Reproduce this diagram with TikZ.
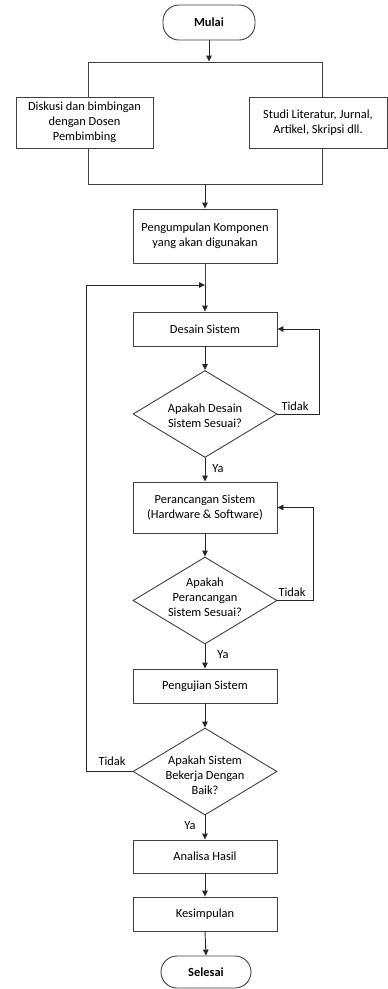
\documentclass[tikz,border=0pt]{standalone}
\usepackage{fontspec}
\setmainfont{Carlito}
\usetikzlibrary{shapes.geometric,arrows.meta}
\begin{document}
\begin{tikzpicture}[x=1pt,y=-1pt,
  font=\fontsize{12.4}{15}\selectfont,
  box/.style={draw=black!75,line width=0.9pt,fill=white,align=center,inner sep=0pt,minimum width=144pt},
  term/.style={draw=black!75,line width=0.9pt,fill=white,rounded corners=16pt,inner sep=0pt,font=\fontsize{12.4}{15}\selectfont\bfseries},
  dec/.style={draw=black!75,line width=0.9pt,shape=diamond,inner sep=0pt,minimum width=144pt,minimum height=87pt},
  arr/.style={draw=black!85,line width=0.9pt,-{Triangle[length=6pt,width=5.5pt]}},
  ln/.style={draw=black!75,line width=0.9pt},
  lbl/.style={inner sep=0pt}]
\useasboundingbox (0,0) rectangle (388,989);
% outer frame
\node[draw=black!75,line width=0.9pt,minimum width=234pt,minimum height=122pt,inner sep=0pt] (frame) at (205,123) {};
\node[term,minimum width=92pt,minimum height=35pt] (mulai) at (209,22.5) {Mulai};
\node[box,minimum width=137pt,minimum height=51pt] (disk) at (84.5,122.5) {Diskusi dan bimbingan\\dengan Dosen\\Pembimbing};
\node[box,minimum width=138pt,minimum height=51pt] (studi) at (318,122.5) {Studi Literatur, Jurnal,\\Artikel, Skripsi dll.};
\node[box,minimum height=54pt] (peng) at (205,236) {Pengumpulan Komponen\\yang akan digunakan};
\coordinate (join) at (205,285);
\node[box,minimum height=34pt] (desain) at (205,329) {Desain Sistem};
\node[dec] (d1) at (205,414) {};
\node[align=center,lbl] (t1) at (205,416) {Apakah Desain\\Sistem Sesuai?};
\node[box,minimum height=51pt] (peranc) at (205,507.5) {Perancangan Sistem\\(Hardware \& Software)};
\node[dec] (d2) at (205,600.5) {};
\node[align=center,lbl] (t2) at (205,597) {Apakah\\Perancangan\\Sistem Sesuai?};
\node[box,minimum height=34pt] (uji) at (205,686) {Pengujian Sistem};
\node[dec] (d3) at (205,771.5) {};
\node[align=center,lbl] (t3) at (205,775) {Apakah Sistem\\Bekerja Dengan\\Baik?};
\node[box,minimum height=33pt] (analisa) at (205,856.5) {Analisa Hasil};
\node[box,minimum height=34pt] (kesim) at (205,914) {Kesimpulan};
\node[term,minimum width=90pt,minimum height=32pt] (selesai) at (206,972) {Selesai};
% connectors
\draw[arr] (mulai.south) -- (mulai.south |- frame.north);
\draw[arr] (frame.south -| peng.north) -- (peng.north);
\draw[ln] (peng.south) -- (join);
\draw[arr] (join) -- (desain.north);
\draw[arr] (desain.south) -- (d1.north);
\draw[arr] (d1.south) -- (peranc.north);
\draw[arr] (d1.east) -- (319,414) -- (319,329) -- (desain.east);
\draw[arr] (peranc.south) -- (d2.north);
\draw[arr] (d2.east) -- (313,600.5) -- (313,507.5) -- (peranc.east);
\draw[arr] (d2.south) -- (uji.north);
\draw[arr] (uji.south) -- (d3.north);
\draw[arr] (d3.west) -- (86,771.5) -- (86,285) -- (join);
\draw[arr] (d3.south) -- (analisa.north);
\draw[arr] (analisa.south) -- (kesim.north);
\draw[arr] (kesim.south) -- (selesai.north);
% labels
\node[lbl] (ya1) at (218,469) {Ya};
\node[lbl] (ya2) at (223,655) {Ya};
\node[lbl] (ya3) at (190,826) {Ya};
\node[lbl] (td1) at (295,406) {Tidak};
\node[lbl] (td2) at (292,592) {Tidak};
\node[lbl] (td3) at (112,761) {Tidak};
\end{tikzpicture}
\end{document}
